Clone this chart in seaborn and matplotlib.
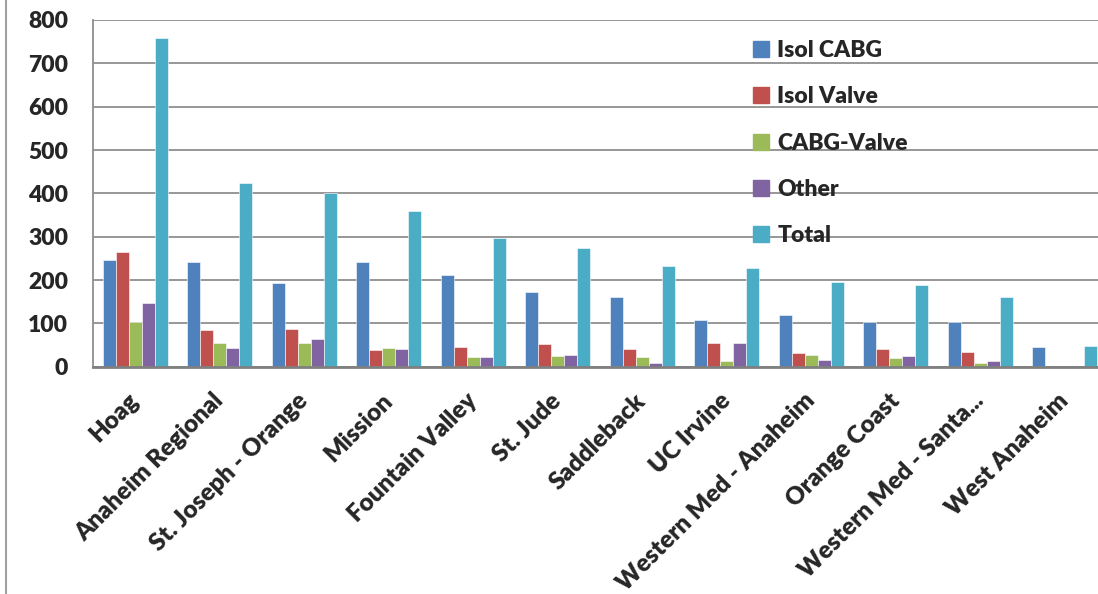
import matplotlib
matplotlib.use('Agg')

import matplotlib.pyplot as plt
import seaborn as sns
import pandas as pd
from matplotlib.lines import Line2D

# hospital cardiac surgery counts
hospitals = ["Hoag", "Anaheim Regional", "St. Joseph - Orange", "Mission",
             "Fountain Valley", "St. Jude", "Saddleback", "UC Irvine",
             "Western Med - Anaheim", "Orange Coast", "Western Med - Santa...",
             "West Anaheim"]
isol_cabg = [246, 241, 194, 241, 212, 172, 161, 108, 120, 104, 102, 45]
isol_valve = [265, 85, 87, 38, 45, 52, 41, 54, 32, 41, 35, 0]
cabg_valve = [104, 54, 54, 43, 22, 25, 22, 13, 27, 20, 8, 0]
other = [146, 42, 65, 40, 22, 26, 8, 54, 16, 24, 13, 0]
total = [759, 423, 400, 360, 298, 273, 232, 227, 195, 189, 161, 47]

series_names = ["Isol CABG", "Isol Valve", "CABG-Valve", "Other", "Total"]
colors = ["#4F81BD", "#C0504D", "#9BBB59", "#8064A2", "#4BACC6"]

df = pd.DataFrame({"Hospital": hospitals, "Isol CABG": isol_cabg,
                   "Isol Valve": isol_valve, "CABG-Valve": cabg_valve,
                   "Other": other, "Total": total})
long_df = df.melt(id_vars="Hospital", var_name="Type", value_name="Count")

sns.set_style("white")
plt.rcParams['font.family'] = ['Lato', 'DejaVu Sans']

fig = plt.figure(figsize=(10.98, 5.94), dpi=100)
ax = fig.add_axes([93 / 1098, 1 - 366.7 / 594, (1107 - 93) / 1098, (366.7 - 20) / 594])

sns.barplot(data=long_df, x="Hospital", y="Count", hue="Type",
            hue_order=series_names, palette=colors, saturation=1,
            width=0.77, edgecolor="white", linewidth=0.4, ax=ax)

ax.set_ylim(0, 800)
ax.set_xlim(-0.5, 11.5)
ax.set_yticks(range(0, 801, 100))
ax.yaxis.grid(True, color="#8f8f8f", linewidth=1.3)
ax.set_axisbelow(True)
ax.set_xlabel("")
ax.set_ylabel("")

for s in ["top", "right"]:
    ax.spines[s].set_visible(False)
ax.spines["left"].set_color("#8f8f8f")
ax.spines["left"].set_linewidth(1.3)
ax.spines["bottom"].set_color("#808080")
ax.spines["bottom"].set_linewidth(2)

ax.tick_params(axis="y", length=3, width=1.3, color="#8f8f8f", pad=15,
               labelsize=16.5)
ax.tick_params(axis="x", length=0, pad=22)
for lbl in ax.get_yticklabels():
    lbl.set_fontweight("heavy")
ax.set_xticks(range(len(hospitals)))
ax.set_xticklabels(hospitals, rotation=45, ha="right", va="center",
                   rotation_mode="anchor", fontsize=17.5, fontweight="heavy")

handles = [plt.Rectangle((0, 0), 1, 1, color=c) for c in colors]
ax.legend(handles, series_names, loc="upper left",
          bbox_to_anchor=(744 / 1098, 1 - 31 / 594), bbox_transform=fig.transFigure,
          frameon=False, prop={"weight": "heavy", "size": 16.5},
          handlelength=0.7, handleheight=0.7, handletextpad=0.35,
          labelspacing=1.1, borderaxespad=0)

# left border of the chart frame
fig.add_artist(Line2D([6 / 1098, 6 / 1098], [0, 1], color="#a0a0a0",
                      linewidth=1.5, transform=fig.transFigure))

fig.savefig("out.png", dpi=100)
plt.close(fig)
